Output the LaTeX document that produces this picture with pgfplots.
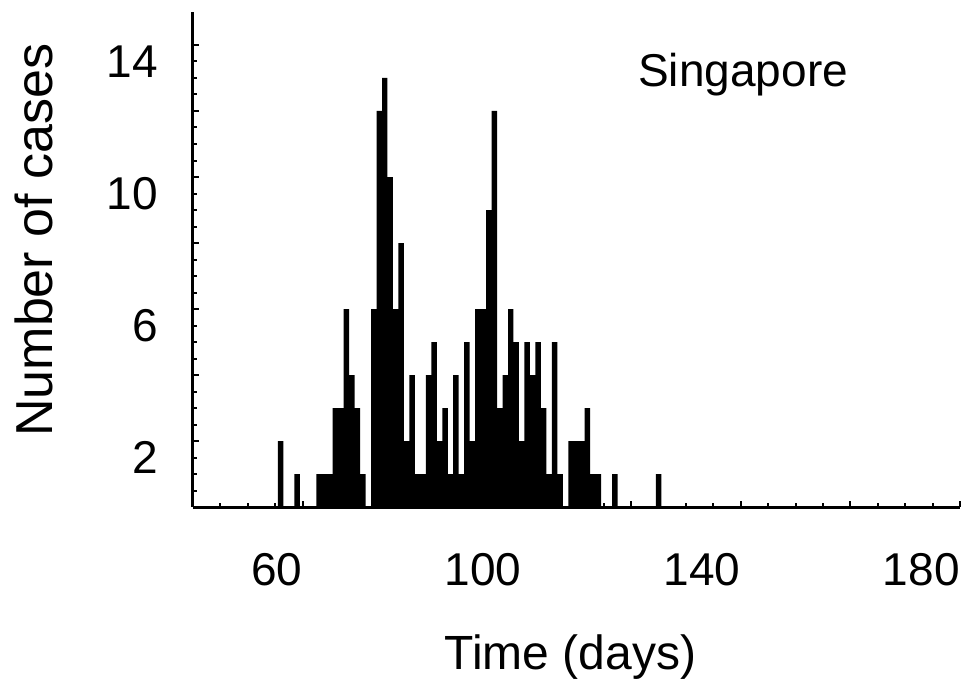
\documentclass[border=0pt]{standalone}
\usepackage{fontspec}
\setmainfont{Liberation Sans}
\usepackage{pgfplots}
\pgfplotsset{compat=1.18}

\pgfplotstableread{
day cases
56 2
59 1
63 1
64 1
65 1
66 3
67 3
68 6
69 4
70 3
71 1
72 0
73 6
74 12
75 13
76 10
77 6
78 8
79 2
80 4
81 1
82 1
83 4
84 5
85 2
86 3
87 1
88 4
89 1
90 5
91 2
92 6
93 6
94 9
95 12
96 3
97 4
98 6
99 5
100 2
101 5
102 4
103 5
104 3
105 1
106 5
107 1
108 0
109 2
110 2
111 2
112 3
113 1
114 1
117 1
125 1
}\singapore

\begin{document}
\begin{tikzpicture}
\begin{axis}[
    scale only axis,
    width=383.5pt, height=247.5pt,
    xmin=40, xmax=180, ymin=0, ymax=15,
    axis lines*=left,
    axis line style={line width=1.5pt},
    xtick={40,60,...,180},
    xticklabels={,60,,100,,140,,180},
    minor x tick num=3,
    ytick={0,2,...,14},
    yticklabels={,2,,6,,10\hspace{8pt},,14\hspace{8pt}},
    minor y tick num=3,
    tick align=inside,
    tick style={line width=1pt, black},
    major tick length=3pt,
    minor tick length=2pt,
    /pgf/number format/assume math mode=true,
    tick label style={font=\fontsize{23}{28}\selectfont, inner sep=0pt},
    xticklabel style={anchor=north east, yshift=-23pt},
    yticklabel style={anchor=north east, xshift=-17.5pt},
    xlabel={Time (days)},
    xlabel style={font=\fontsize{24}{29}\selectfont, at={(axis description cs:0.5,0)}, anchor=base, xshift=-3pt, yshift=-81pt},
    ylabel={Number of cases},
    ylabel style={font=\fontsize{26}{31}\selectfont, at={(axis description cs:-0.1838,0.539)}, anchor=base},
]
\addplot[ybar, bar width=1, bar shift=0pt, fill=black, draw=none] table[x=day, y=cases] {\singapore};
\node[anchor=base west, font=\fontsize{23}{28}\selectfont, inner sep=0pt]
    at (axis description cs:0.580,0.850) {Singapore};
\end{axis}
\pgfresetboundingbox
\path (-96.5pt,-89pt) rectangle (387pt,253.5pt);
\end{tikzpicture}
\end{document}
